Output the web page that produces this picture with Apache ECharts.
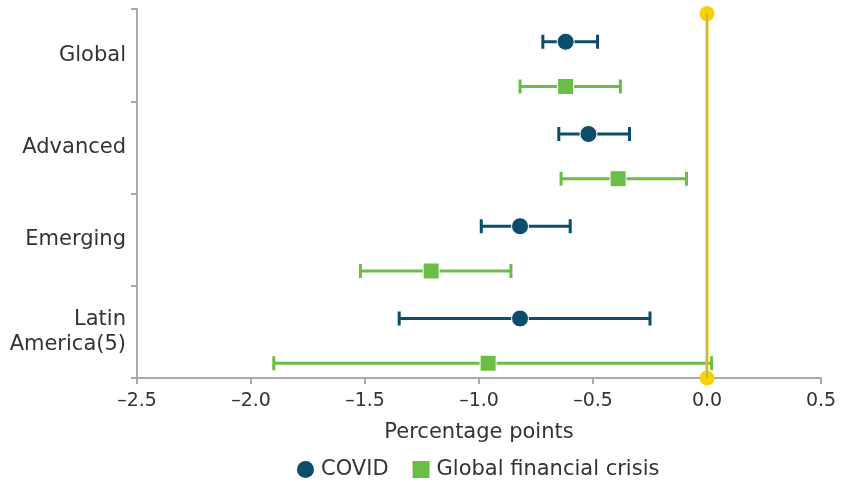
<!DOCTYPE html>
<html>
<head>
<meta charset="utf-8">
<script src="https://cdn.jsdelivr.net/npm/echarts@6/dist/echarts.min.js"></script>
<style>
html, body { margin: 0; padding: 0; background: #fff; }
#chart { width: 841px; height: 482px; }
</style>
</head>
<body>
<div id="chart"></div>
<script>
// data (percentage points)
var regions = ['Global', 'Advanced', 'Emerging', 'Latin\nAmerica(5)'];
var covidMid = [-0.62, -0.52, -0.82, -0.82];
var covidLow = [-0.72, -0.65, -0.99, -1.35];
var covidHigh = [-0.48, -0.34, -0.60, -0.25];
var gfcMid = [-0.62, -0.39, -1.21, -0.96];
var gfcLow = [-0.82, -0.64, -1.52, -1.90];
var gfcHigh = [-0.38, -0.09, -0.86, 0.02];
var xMin = -2.5, xMax = 0.5, xStep = 0.5;

var COVID = '#0b4d6b', GFC = '#6cbd45', YELLOW = '#f5d200';
var FONT = 'DejaVu Sans';
// row position inside each region band (band = 1 unit on hidden axis)
var covidOff = 0.355, gfcOff = 0.84;

function rows(mid, low, high, off) {
	var pts = [], bars = [];
	for (var i = 0; i < mid.length; i++) {
		pts.push([mid[i], i + off]);
		bars.push([low[i], high[i], i + off]);
	}
	return { pts: pts, bars: bars };
}
var covid = rows(covidMid, covidLow, covidHigh, covidOff);
var gfc = rows(gfcMid, gfcLow, gfcHigh, gfcOff);

function errorBar(color) {
	return function (params, api) {
		var y = api.value(2);
		var a = api.coord([api.value(0), y]);
		var b = api.coord([api.value(1), y]);
		var h = 7;
		var st = { stroke: color, lineWidth: 3 };
		return {
			type: 'group',
			children: [
				{ type: 'line', shape: { x1: a[0], y1: a[1], x2: b[0], y2: b[1] }, style: st },
				{ type: 'line', shape: { x1: a[0], y1: a[1] - h, x2: a[0], y2: a[1] + h }, style: st },
				{ type: 'line', shape: { x1: b[0], y1: b[1] - h, x2: b[0], y2: b[1] + h }, style: st }
			]
		};
	};
}

var chart = echarts.init(document.getElementById('chart'));
var option = {
	animation: false,
	textStyle: { fontFamily: FONT },
	grid: { left: 137, right: 20, top: 9, bottom: 104, containLabel: false },
	legend: {
		top: 454,
		left: 292,
		itemWidth: 17,
		itemHeight: 17,
		itemGap: 24,
		textStyle: { fontFamily: FONT, fontSize: 21, color: '#333', padding: [0, 0, 0, 2] },
		data: [
			{ name: 'COVID', icon: 'circle' },
			{ name: 'Global financial crisis', icon: 'rect' }
		]
	},
	xAxis: {
		type: 'value',
		min: xMin,
		max: xMax,
		interval: xStep,
		name: 'Percentage points',
		nameLocation: 'middle',
		nameGap: 44,
		nameTextStyle: { fontFamily: FONT, fontSize: 21, color: '#333' },
		axisLine: { show: true, onZero: false, lineStyle: { color: '#aaa', width: 2 } },
		axisTick: { show: true, length: 6, lineStyle: { color: '#aaa', width: 2 } },
		axisLabel: {
			fontSize: 19, color: '#333', margin: 14,
			formatter: function (v) { return (v < 0 ? '\u2013' : '') + Math.abs(v).toFixed(1); }
		},
		splitLine: { show: false }
	},
	yAxis: [
		{
			type: 'category',
			inverse: true,
			data: regions,
			axisLine: { show: true, onZero: false, lineStyle: { color: '#aaa', width: 2 } },
			axisTick: { show: true, length: 6, lineStyle: { color: '#aaa', width: 2 } },
			axisLabel: { fontSize: 21, color: '#333', margin: 11, lineHeight: 25 }
		},
		{
			type: 'value',
			show: false,
			inverse: true,
			min: 0,
			max: 4,
			position: 'left',
			axisLine: { onZero: false }
		}
	],
	series: [
		{
			name: 'COVID', type: 'custom', yAxisIndex: 1, z: 2,
			itemStyle: { color: COVID },
			renderItem: errorBar(COVID), data: covid.bars
		},
		{
			name: 'Global financial crisis', type: 'custom', yAxisIndex: 1, z: 2,
			itemStyle: { color: GFC },
			renderItem: errorBar(GFC), data: gfc.bars
		},
		{
			type: 'line', yAxisIndex: 1, z: 3, silent: true,
			data: [[0, 0.05], [0, 4]],
			symbol: 'circle', symbolSize: 15,
			itemStyle: { color: YELLOW, opacity: 1 },
			lineStyle: { color: YELLOW, width: 3 }
		},
		{
			type: 'line', yAxisIndex: 1, z: 4, silent: true,
			data: [[0, 0.05], [0, 4]],
			symbol: 'none',
			lineStyle: { color: '#9a9a9a', width: 1 }
		},
		{
			name: 'COVID', type: 'scatter', yAxisIndex: 1, z: 5,
			symbol: 'circle', symbolSize: 17,
			itemStyle: { color: COVID, opacity: 1, borderColor: '#fff', borderWidth: 1 },
			data: covid.pts
		},
		{
			name: 'Global financial crisis', type: 'scatter', yAxisIndex: 1, z: 5,
			symbol: 'rect', symbolSize: 16,
			itemStyle: { color: GFC, opacity: 1, borderColor: '#fff', borderWidth: 1 },
			data: gfc.pts
		}
	]
};
chart.setOption(option);
</script>
</body>
</html>
